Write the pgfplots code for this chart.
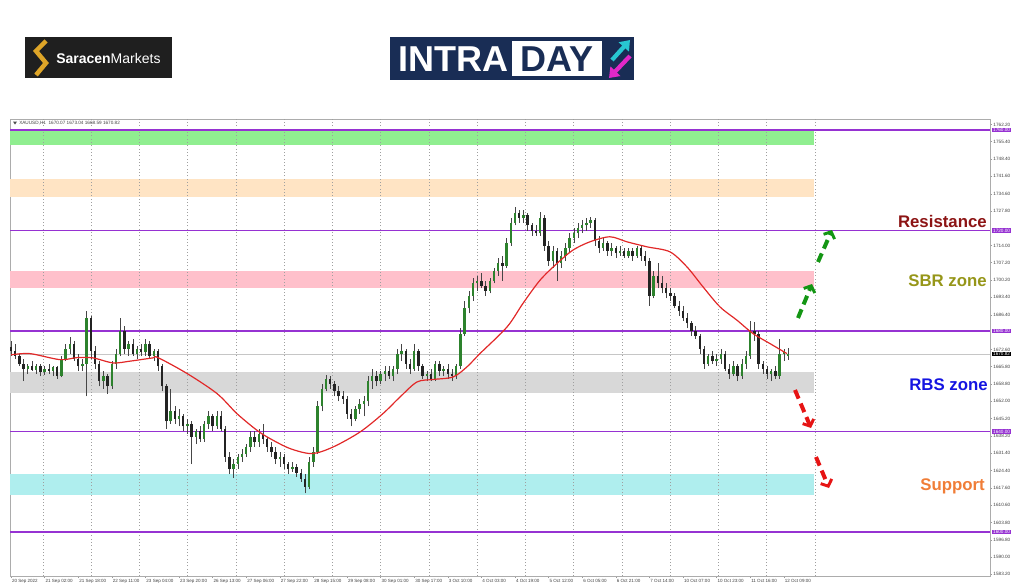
\documentclass[border=0pt]{standalone}
\usepackage{pgfplots}
\pgfplotsset{compat=1.18}
\usepackage{pgfplotstable}
\usepackage{fontspec}
\setmainfont{Liberation Sans}
\usetikzlibrary{arrows.meta}
\definecolor{zgreen}{RGB}{144,238,144}
\definecolor{zpeach}{RGB}{255,228,196}
\definecolor{zpink}{RGB}{255,192,203}
\definecolor{zgrey}{RGB}{216,216,216}
\definecolor{zcyan}{RGB}{175,238,238}
\definecolor{lvl}{RGB}{150,50,210}
\definecolor{upc}{RGB}{45,130,45}
\definecolor{dnc}{RGB}{35,35,35}
\definecolor{wick}{RGB}{70,70,70}
\definecolor{maline}{RGB}{225,40,40}
\definecolor{navy}{RGB}{25,45,85}
\definecolor{gold}{RGB}{222,165,40}
\definecolor{resc}{RGB}{140,20,20}
\definecolor{sbrc}{RGB}{150,150,25}
\definecolor{rbsc}{RGB}{20,20,225}
\definecolor{supc}{RGB}{240,125,55}
\definecolor{arrg}{RGB}{20,150,20}
\definecolor{arrr}{RGB}{230,20,20}
\definecolor{cyanic}{RGB}{40,200,210}
\definecolor{magic}{RGB}{225,40,200}

\pgfplotstableread{
i o h l c
0 1673.5 1676 1670 1672
2 1672 1675 1669 1670
4 1670 1671 1666 1667
6 1667 1669 1660 1665
8 1665 1667 1663 1666
10 1666 1668 1664 1664.5
12 1664.5 1667 1663 1666
14 1666 1667 1662 1663.5
16 1663.5 1666 1662.5 1665
18 1665 1667 1663 1664
20 1664 1666 1662 1665.5
22 1665.5 1666 1661 1662
24 1662 1670 1661.5 1669
26 1669 1675 1668 1673
28 1673 1677.5 1671 1675
30 1675 1676 1668 1669
32 1669 1671 1664 1666
34 1666 1669 1664 1667
36 1667 1688 1654 1685
38 1685 1686 1669 1672
40 1672 1674 1665 1667
42 1667 1668 1658 1660
44 1660 1664 1657 1662
46 1662 1663 1655 1658
48 1658 1668 1657 1667
50 1667 1673 1665 1671
52 1671 1685 1670 1680
54 1680 1682 1671 1673
56 1673 1676 1670 1675
58 1675 1677 1670 1671
60 1671 1674 1669 1673
62 1673 1675 1670 1671.5
64 1671.5 1677 1670 1675
66 1675 1676 1669 1670
68 1670 1673 1668 1672
70 1672 1673 1664 1666
72 1666 1667 1656 1658
74 1658 1659 1641 1644
76 1644 1657 1643 1648
78 1648 1650 1643 1645
80 1645 1649 1642 1646
82 1646 1647 1640 1642
84 1642 1645 1639 1643
86 1643 1644 1627 1638
88 1638 1641 1635 1640
90 1640 1642 1636 1637
92 1637 1644 1636 1643
94 1643 1648 1641 1646
96 1646 1647 1640 1642
98 1642 1648 1641 1646
100 1646 1648 1640 1641
102 1641 1642 1628 1630
104 1630 1632 1623 1625
106 1625 1629 1621.5 1627
108 1627 1631 1625 1630
110 1630 1633 1628 1631
112 1631 1635 1630 1634
114 1634 1640 1632 1638
116 1638 1640 1634 1636
118 1636 1641 1634 1639
120 1639 1643 1635 1637
122 1637 1638 1632 1634
124 1634 1636 1630 1632
126 1632 1634 1627 1629
128 1629 1632 1626 1630
130 1630 1631 1625 1627
132 1627 1628 1623 1625
134 1625 1628 1624 1626
136 1626 1627 1622 1623.5
138 1623.5 1625 1620 1621
140 1621 1623 1615.4 1618
142 1618 1630 1617 1628
144 1628 1634 1626 1632
146 1632 1652 1631 1650
148 1650 1659 1648 1657
150 1657 1662.5 1656 1661
152 1661 1662 1657 1659
154 1659 1660 1654 1656
156 1656 1658 1652 1654
158 1654 1656 1651 1653
160 1653 1654 1645 1647
162 1647 1649 1642 1645
164 1645 1650 1644 1649
166 1649 1653 1647 1651
168 1651 1654 1646 1652
170 1652 1662 1650 1660
172 1660 1665 1657 1662
174 1662 1664 1658 1660
176 1660 1664 1659 1663
178 1663 1666 1660 1664
180 1664 1666 1661 1662
182 1662 1666 1660 1665
184 1665 1673 1663 1671
186 1671 1675 1668 1672
188 1672 1673 1665 1667
190 1667 1669 1663 1665
192 1665 1675 1664 1672
194 1672 1673 1664 1666
196 1666 1667 1661 1662
198 1662 1664 1660 1663
200 1663 1665 1660 1661
202 1661 1668 1660 1667
204 1667 1668 1662 1664
206 1664 1666 1662 1665
208 1665 1667 1661 1663
210 1663 1665 1660 1662
212 1662 1667 1661 1666
214 1666 1681 1665 1679
216 1679 1692 1678 1689
218 1689 1696 1687 1694
220 1694 1701 1692 1699
222 1699 1702 1696 1700
224 1700 1703 1697 1698
226 1698 1700 1694 1696
228 1696 1701 1695 1700
230 1700 1705 1699 1704
232 1704 1709 1702 1707
234 1707 1710 1700 1706
236 1706 1717 1705 1715
238 1715 1725 1714 1723
240 1723 1729.5 1722 1727
242 1727 1728 1723 1725
244 1725 1728 1723 1726
246 1726 1727 1720 1722
248 1722 1723 1718 1720
250 1720 1722 1718 1719
252 1719 1727.5 1718 1725
254 1725 1726 1712 1714
256 1714 1716 1706 1708
258 1708 1714 1705 1712
260 1712 1713 1700 1707
262 1707 1712 1705 1710
264 1710 1715 1708 1713
266 1713 1719 1711 1717
268 1717 1721 1715 1719
270 1719 1723 1717 1721
272 1721 1724 1719 1722
274 1722 1725 1720 1723
276 1723 1725.5 1721 1724
278 1724 1725 1714 1716
280 1716 1718 1711 1713
282 1713 1717 1712 1715
284 1715 1716 1710 1712
286 1712 1715 1710 1713
288 1713 1714 1709 1711
290 1711 1714 1710 1712
292 1712 1713 1709 1710
294 1710 1713 1709 1712
296 1712 1713 1708 1710
298 1710 1714 1709 1713
300 1713 1714 1708 1710
302 1710 1712 1706 1708
304 1708 1709 1690 1694
306 1694 1704 1693 1702
308 1702 1707 1697 1699
310 1699 1702 1695 1697
312 1697 1699 1693 1695
314 1695 1697 1692 1694
316 1694 1695 1689 1690
318 1690 1692 1686 1688
320 1688 1690 1684 1685
322 1685 1687 1681 1683
324 1683 1684 1678 1680
326 1680 1682 1677 1678
328 1678 1679 1671 1673
330 1673 1674 1665 1667
332 1667 1671 1666 1670
334 1670 1672 1667 1668
336 1668 1671 1666 1669
338 1669 1673 1667 1671
340 1671 1672 1664 1665
342 1665 1667 1661 1663
344 1663 1668 1662 1666
346 1666 1667 1660 1662
348 1662 1669 1661 1667
350 1667 1672 1665 1670
352 1670 1684 1669 1680
354 1680 1683.5 1676 1679
356 1679 1680 1665 1667
358 1667 1668 1663 1665
360 1665 1666 1661 1663
362 1663 1665 1660 1664
364 1664 1666 1661 1662
366 1662 1677 1661 1671
368 1671 1673 1668 1672
370 1670.07 1673.04 1668.59 1670.82
}\candles

\begin{document}
\begin{tikzpicture}
\path (0,0) rectangle (768pt,440.25pt);
\begin{scope}[x=0.75pt,y=0.75pt]
% ---- logos ----
\fill[black!88] (25,509) rectangle (172,550);
\draw[gold, line width=3.4pt, line join=miter, line cap=butt] (46,546) -- (36,536) -- (46,524) -- (36,512);
\node[anchor=west, text=white, font=\fontsize{10.5}{12}\selectfont, inner sep=0] at (56,529) {\textbf{Saracen}Markets};
\fill[navy] (390,507) rectangle (634,550);
\fill[white] (512,511) rectangle (602,546);
\node[anchor=base west, text=white, font=\fontsize{27}{30}\selectfont\bfseries, inner sep=0] at (398,515) {INTRA};
\node[anchor=base, text=navy, font=\fontsize{27}{30}\selectfont\bfseries, inner sep=0] at (557,515) {DAY};
\draw[cyanic, line width=3.2pt, -{Triangle[length=7pt,width=10pt]}] (612,527) -- (630,547);
\draw[magic, line width=3.2pt, -{Triangle[length=7pt,width=10pt]}] (630,531) -- (609,509);
\end{scope}

\begin{axis}[
  at={(7.5pt,8.25pt)}, anchor=south west, scale only axis,
  width=735pt, height=342.75pt,
  xmin=-0.476, xmax=466.19, ymin=1582.48, ymax=1764.38,
  clip mode=individual,
  axis line style={draw=gray!65, line width=0.5pt},
  tick style={draw=gray!80, line width=0.4pt},
  tick align=outside, major tick length=1.6pt,
  xtick pos=bottom, ytick pos=right, yticklabel pos=right,
  xtick={0,16,...,368},
  xticklabels={20 Sep 2022, 21 Sep 02:00, 21 Sep 18:00, 22 Sep 11:00, 23 Sep 04:00, 23 Sep 20:00, 26 Sep 13:00, 27 Sep 06:00, 27 Sep 22:00, 28 Sep 15:00, 29 Sep 08:00, 30 Sep 01:00, 30 Sep 17:00, 3 Oct 10:00, 4 Oct 03:00, 4 Oct 19:00, 5 Oct 12:00, 6 Oct 05:00, 6 Oct 21:00, 7 Oct 14:00, 10 Oct 07:00, 10 Oct 23:00, 11 Oct 16:00, 12 Oct 09:00},
  xticklabel style={anchor=north west, font=\fontsize{3.4}{4}\selectfont, text=black!75, inner sep=0.6pt},
  ytick={1583.2,1590,1596.8,1603.8,1610.6,1617.6,1624.4,1631.4,1638.2,1645.2,1652,1658.8,1665.8,1672.6,1686.4,1693.4,1700.2,1707.2,1714,1727.8,1734.6,1741.6,1748.4,1755.4,1762.2},
  scaled y ticks=false,
  yticklabel style={font=\fontsize{3.5}{4}\selectfont, text=black!75, inner sep=0.8pt, /pgf/number format/.cd, fixed, fixed zerofill, precision=2, 1000 sep={}, assume math mode=true},
]
% zones
\fill[zgreen] (axis cs:-0.476,1754.0) rectangle (axis cs:382.4,1759.6);
\fill[zpeach] (axis cs:-0.476,1733.3) rectangle (axis cs:382.4,1740.5);
\fill[zpink] (axis cs:-0.476,1697.0) rectangle (axis cs:382.4,1704.0);
\fill[zgrey] (axis cs:-0.476,1655.4) rectangle (axis cs:382.4,1663.8);
\fill[zcyan] (axis cs:-0.476,1614.7) rectangle (axis cs:382.4,1623.1);
% dotted grid
\pgfplotsinvokeforeach{15.2,38.2,61.2,84.2,107.2,130.1,153.1,176.1,199.1,222.1,245.0,268.0,291.0,314.0,337.0,359.9,382.9}{
  \draw[gray!75, dotted, line width=0.5pt] (axis cs:#1,1582.48) -- (axis cs:#1,1764.38);
}
% current price line
\draw[gray!45, line width=0.4pt] (axis cs:-0.476,1670.82) -- (axis cs:466.19,1670.82);
% levels
\pgfplotsinvokeforeach{1760,1720,1680,1640,1600}{
  \draw[lvl, line width=0.9pt] (axis cs:-0.476,#1) -- (axis cs:466.19,#1);
  \node[fill=lvl, text=white, anchor=west, inner xsep=1pt, inner ysep=0.4pt, xshift=1.2pt, font=\fontsize{3.5}{4}\selectfont] at (axis cs:466.19,#1) {#1.00};
}
\node[fill=black, text=white, anchor=west, inner xsep=1pt, inner ysep=0.4pt, xshift=1.2pt, font=\fontsize{3.5}{4}\selectfont] at (axis cs:466.19,1670.82) {1670.82};

% wicks
\addplot[draw=none, mark=none, forget plot,
  error bars/.cd, y dir=plus, y explicit, error mark=none,
  error bar style={draw=wick, line width=0.45pt, solid}]
  table[x=i, y=l, y error expr=\thisrow{h}-\thisrow{l}] {\candles};
% up bodies
\addplot[draw=none, mark=none, forget plot,
  restrict expr to domain={\thisrow{c}-\thisrow{o}}{0:10000},
  error bars/.cd, y dir=plus, y explicit, error mark=none,
  error bar style={draw=upc, line width=1.7pt, solid}]
  table[x=i, y=o, y error expr={max(\thisrow{c}-\thisrow{o},0.35)}] {\candles};
% down bodies
\addplot[draw=none, mark=none, forget plot,
  restrict expr to domain={\thisrow{c}-\thisrow{o}}{-10000:-0.001},
  error bars/.cd, y dir=plus, y explicit, error mark=none,
  error bar style={draw=dnc, line width=1.7pt, solid}]
  table[x=i, y=c, y error expr={\thisrow{o}-\thisrow{c}}] {\candles};
% moving average
\addplot[maline, line width=0.9pt, smooth, tension=0.5] coordinates {
(0,1670.5) (9,1671) (23.3,1668.6) (31.4,1669.4) (39,1669.3) (48.6,1667.3) (56.7,1668.0) (67.6,1669.3) (70,1669.4) (83.8,1663.1) (98.1,1655.1) (107.6,1647.1) (117.1,1640.5) (123.3,1637.2) (132.9,1633.2) (143.3,1631.2) (153.3,1633.8) (166.2,1639.8) (177.1,1647.1) (185.2,1653.7) (193.3,1659.7) (201,1660.7) (210.5,1661.7) (217.1,1665.7) (223.3,1671) (236.2,1681.6) (243.8,1691) (251.9,1700.2) (260,1706.9) (267.6,1712.2) (275.7,1715.5) (285.2,1717.5) (293.3,1715.5) (302.9,1713.5) (313.8,1711.5) (321.9,1705.5) (329.5,1697.6) (337.6,1689.6) (345.7,1684.3) (353.3,1679.0) (361.4,1675.0) (369.5,1671.0)};
\end{axis}

\begin{scope}[x=0.75pt,y=0.75pt]
% header inside chart
\fill[black!70] (13,465.5) -- (17,465.5) -- (15,462.5) -- cycle;
\node[anchor=west, inner sep=0, text=black!75, font=\fontsize{3.5}{4}\selectfont] at (19,464) {XAUUSD,H1\ \ 1670.07 1673.04 1668.59 1670.82};

% annotations
\node[anchor=base east, text=resc, font=\fontsize{12.6}{14}\selectfont\bfseries, inner sep=0] at (987,360) {Resistance};
\node[anchor=base east, text=sbrc, font=\fontsize{12.6}{14}\selectfont\bfseries, inner sep=0] at (987,301) {SBR zone};
\node[anchor=base east, text=rbsc, font=\fontsize{12.6}{14}\selectfont\bfseries, inner sep=0] at (988,197) {RBS zone};
\node[anchor=base east, text=supc, font=\fontsize{12.6}{14}\selectfont\bfseries, inner sep=0] at (985,96.5) {Support};

\draw[arrg, line width=3pt, dash pattern=on 7pt off 4pt, -{Straight Barb[length=4pt,width=9pt,line width=2.2pt]}] (798,269) -- (812,303);
\draw[arrg, line width=3pt, dash pattern=on 7pt off 4pt, -{Straight Barb[length=4pt,width=9pt,line width=2.2pt]}] (818,325) -- (832,357);
\draw[arrr, line width=3pt, dash pattern=on 7pt off 4pt, -{Straight Barb[length=4pt,width=9pt,line width=2.2pt]}] (795,197) -- (811,159);
\draw[arrr, line width=3pt, dash pattern=on 7pt off 4pt, -{Straight Barb[length=4pt,width=9pt,line width=2.2pt]}] (816,130) -- (829,99);
\end{scope}
\end{tikzpicture}
\end{document}
